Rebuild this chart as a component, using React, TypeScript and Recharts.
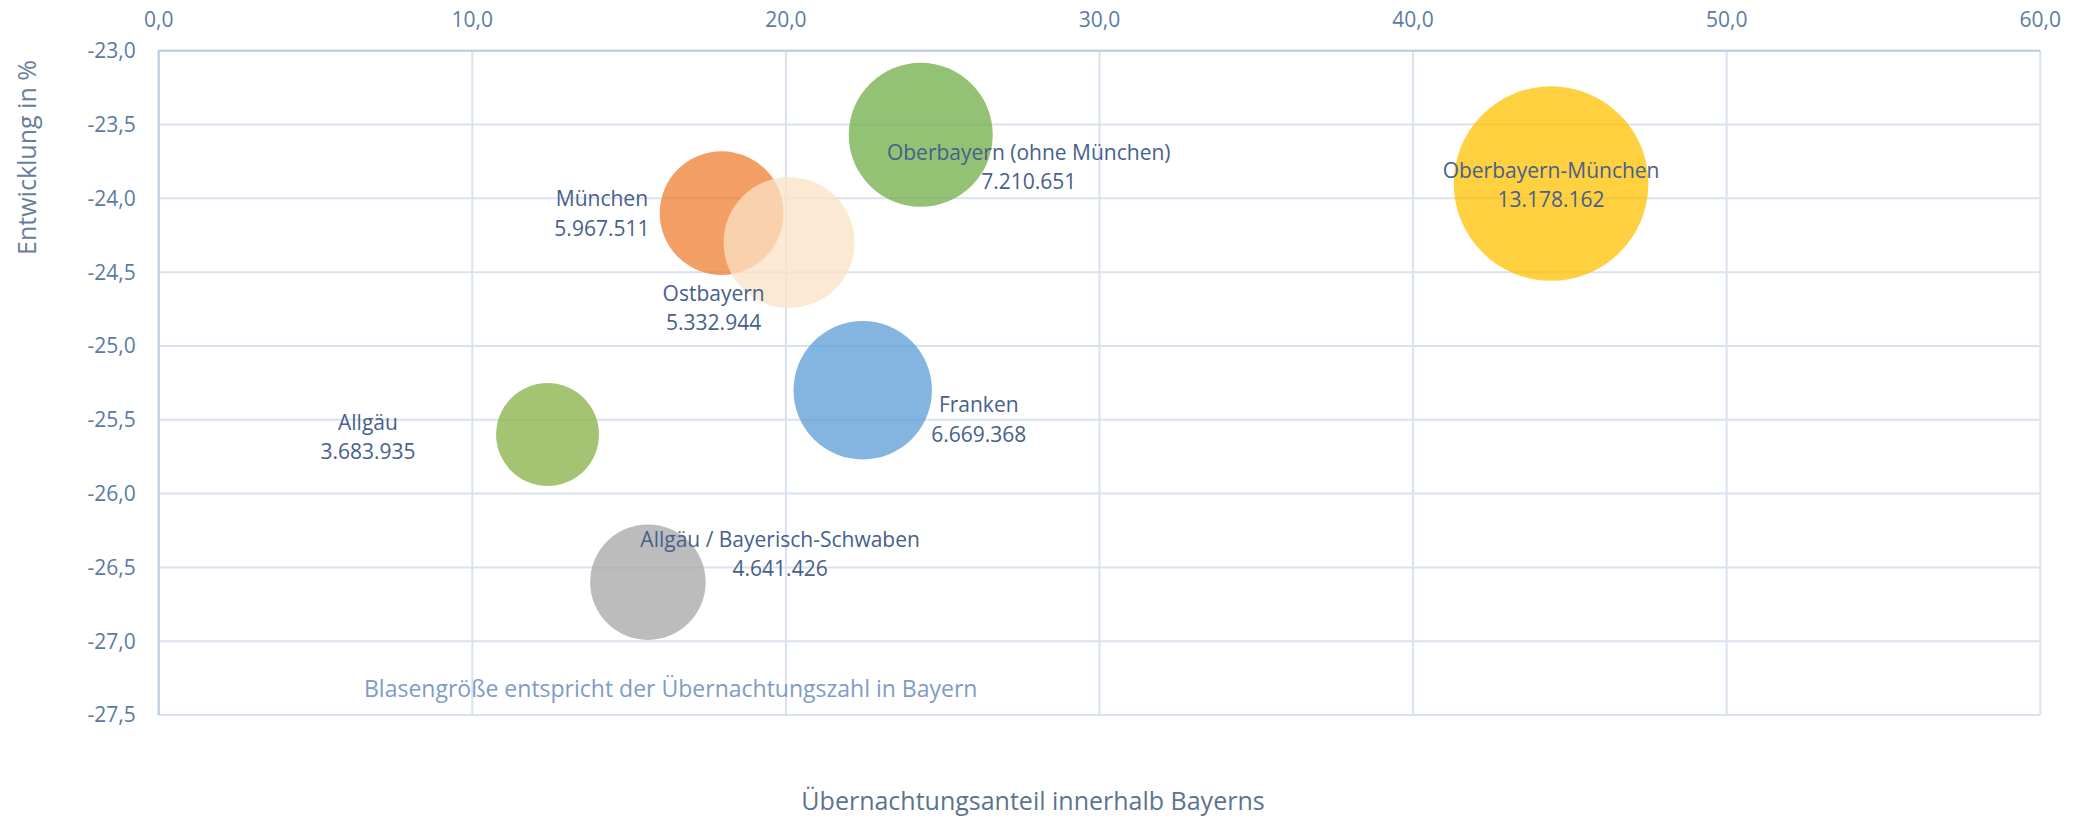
import React from 'react';
import { ScatterChart, Scatter, XAxis, YAxis, ZAxis, CartesianGrid } from 'recharts';

// ---------- data ----------
const regions = [
  'Oberbayern-München',
  'Oberbayern (ohne München)',
  'München',
  'Ostbayern',
  'Franken',
  'Allgäu',
  'Allgäu / Bayerisch-Schwaben',
];
const overnightShare = [44.4, 24.3, 17.95, 20.1, 22.45, 12.4, 15.6];
const changePercent = [-23.9, -23.57, -24.1, -24.3, -25.3, -25.6, -26.6];
const overnightStays = [13178162, 7210651, 5967511, 5332944, 6669368, 3683935, 4641426];
const bubbleSizes = [13178162, 7210651, 5332944, 5967511, 6669368, 3683935, 4641426];
const xTicks = [0, 10, 20, 30, 40, 50, 60];
const yTicks = [-27.5, -27, -26.5, -26, -25.5, -25, -24.5, -24, -23.5, -23];

const xTitle = 'Übernachtungsanteil innerhalb Bayerns';
const yTitle = 'Entwicklung in %';
const note = 'Blasengröße entspricht der Übernachtungszahl in Bayern';

// ---------- styles ----------
const colors = ['#FFC000', '#70AD47', '#ED7D31', '#FBE2C5', '#5B9BD5', '#86B046', '#A5A5A5'];
const labelLayout = [
  { dx: 0, dy: -5.6 },
  { dx: 108, dy: 24.7 },
  { dx: -119.7, dy: -7 },
  { dx: -75.4, dy: 58.2 },
  { dx: 116, dy: 22 },
  { dx: -179.6, dy: -5 },
  { dx: 132.2, dy: -35.6 },
];
const FONT = '"Open Sans", sans-serif';
const MAX_RADIUS = 97.3;
const W = 2073;
const H = 819;

const data = regions.map((name, i) => ({
  name,
  x: overnightShare[i],
  y: changePercent[i],
  z: bubbleSizes[i],
  label: overnightStays[i],
}));

const fmtTick = (v: number) => v.toFixed(1).replace('.', ',');
const fmtNum = (v: number) => String(v).replace(/\B(?=(\d{3})+(?!\d))/g, '.');

const BubbleShape = (props: any) => {
  const { cx, cy, payload } = props;
  const i = regions.indexOf(payload.name);
  const r = props.size != null ? Math.sqrt(props.size / Math.PI) : props.width / 2;
  return <circle cx={cx} cy={cy} r={r} fill={colors[i]} fillOpacity={0.75} />;
};

const LabelShape = (props: any) => {
  const { cx, cy, payload } = props;
  const i = regions.indexOf(payload.name);
  const L = labelLayout[i];
  const common = {
    textAnchor: 'middle' as const,
    fontFamily: FONT,
    fontSize: 21,
    fill: '#46618A',
  };
  return (
    <g>
      <text x={cx + L.dx} y={cy + L.dy} {...common}>{payload.name}</text>
      <text x={cx + L.dx} y={cy + L.dy + 29.5} {...common}>{fmtNum(payload.label)}</text>
    </g>
  );
};

const tickStyle = { fontFamily: FONT, fontSize: 21, fill: '#5B7BA5' };

export default function App() {
  const maxZ = Math.max(...bubbleSizes);
  return (
    <div style={{ position: 'relative', width: W, height: H }}>
      <style>{'html,body{margin:0;padding:0;overflow:hidden}'}</style>
      <ScatterChart
        width={W}
        height={H}
        margin={{ top: 10.7, right: 32.7, bottom: 104, left: 58.7 }}
      >
        <CartesianGrid stroke="#D9E2EE" strokeWidth={2} />
        <XAxis
          type="number"
          dataKey="x"
          orientation="top"
          domain={[0, 60]}
          ticks={xTicks}
          tickFormatter={fmtTick}
          height={40}
          tickLine={false}
          tickSize={0}
          tickMargin={24}
          axisLine={{ stroke: '#BCCDE2', strokeWidth: 2 }}
          tick={tickStyle}
          interval={0}
        />
        <YAxis
          type="number"
          dataKey="y"
          domain={[-27.5, -23]}
          ticks={yTicks}
          tickFormatter={fmtTick}
          width={100}
          tickLine={false}
          tickSize={0}
          tickMargin={23}
          axisLine={{ stroke: '#BCCDE2', strokeWidth: 2 }}
          tick={tickStyle}
          interval={0}
        />
        <ZAxis type="number" dataKey="z" domain={[0, maxZ]} range={[0, Math.PI * MAX_RADIUS * MAX_RADIUS]} />
        <Scatter data={data} shape={BubbleShape} isAnimationActive={false} />
        <Scatter data={data} shape={LabelShape} isAnimationActive={false} />
      </ScatterChart>
      <svg
        width={W}
        height={H}
        style={{ position: 'absolute', left: 0, top: 0, pointerEvents: 'none' }}
      >
        <text x={1033} y={810} textAnchor="middle" fontFamily={FONT} fontSize={25} fill="#5C7391">
          {xTitle}
        </text>
        <text
          x={36}
          y={157.5}
          textAnchor="middle"
          fontFamily={FONT}
          fontSize={25}
          fill="#677E9C"
          transform="rotate(-90 36 157.5)"
        >
          {yTitle}
        </text>
        <text x={364} y={697.3} fontFamily={FONT} fontSize={23} fill="#7E9CC6">
          {note}
        </text>
      </svg>
    </div>
  );
}
